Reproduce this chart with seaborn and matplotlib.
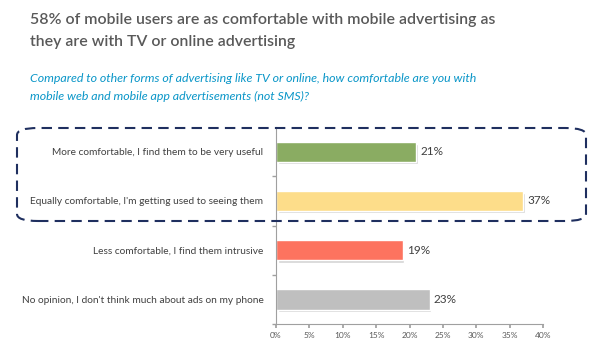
import matplotlib
matplotlib.use("Agg")
import matplotlib.pyplot as plt
import seaborn as sns
import pandas as pd
from matplotlib.patches import FancyBboxPatch
from matplotlib.ticker import FixedLocator

categories = [
    "More comfortable, I find them to be very useful",
    "Equally comfortable, I'm getting used to seeing them",
    "Less comfortable, I find them intrusive",
    "No opinion, I don't think much about ads on my phone",
]
values = [21, 37, 19, 23]
colors = ["#8aac62", "#fddd8a", "#fd735f", "#bfbfbf"]
xticks = [0, 5, 10, 15, 20, 25, 30, 35, 40]

sns.set_theme(style="white")
plt.rcParams["font.family"] = ["Lato", "DejaVu Sans"]

df = pd.DataFrame({"category": categories, "value": values})

fig = plt.figure(figsize=(6.0, 3.47), dpi=100)
ax = fig.add_axes([0.46, 0.066, 0.445, 0.568])

# shadow bars
sns.barplot(data=df, x="value", y="category", hue="category", order=categories,
            palette=["#d4d4d4"] * 4, legend=False, width=0.41, saturation=1, ax=ax, zorder=1)
for p in ax.patches:
    p.set_x(p.get_x() + 0.25)
    p.set_y(p.get_y() + 0.05)
n_shadow = len(ax.patches)
sns.barplot(data=df, x="value", y="category", hue="category", order=categories,
            palette=colors, legend=False, width=0.41, saturation=1, ax=ax, zorder=2)
for p in list(ax.patches)[n_shadow:]:
    p.set_zorder(2)

for i, v in enumerate(values):
    ax.text(v + 0.6, i, f"{v}%", va="center", ha="left", fontsize=8.5, color="#404040")

ax.set_xlim(0, 40)
ax.set_ylim(3.5, -0.5)
ax.set_xticks(xticks)
ax.set_xticklabels([f"{t}%" for t in xticks], fontsize=6, color="#595959")
ax.set_yticks(range(len(categories)))
ax.set_yticklabels(categories, fontsize=7.3, color="#404040")
ax.yaxis.set_minor_locator(FixedLocator([0.5, 1.5, 2.5, 3.5]))
ax.tick_params(axis="y", which="major", length=0, pad=9)
ax.tick_params(axis="y", which="minor", length=3, color="#a0a0a0", direction="out", left=True)
ax.tick_params(axis="x", which="major", length=3, color="#a0a0a0", direction="out", bottom=True, pad=3)
ax.set_xlabel("")
ax.set_ylabel("")
for s in ["top", "right"]:
    ax.spines[s].set_visible(False)
for s in ["left", "bottom"]:
    ax.spines[s].set_color("#a0a0a0")
    ax.spines[s].set_linewidth(0.8)

fig.text(30 / 600, 1 - 20 / 347, "58% of mobile users are as comfortable with mobile advertising as",
         fontsize=11.4, color="#595959", fontweight="semibold", va="center", ha="left")
fig.text(30 / 600, 1 - 42 / 347, "they are with TV or online advertising",
         fontsize=11.4, color="#595959", fontweight="semibold", va="center", ha="left")
fig.text(30 / 600, 1 - 78 / 347, "Compared to other forms of advertising like TV or online, how comfortable are you with",
         fontsize=8.9, color="#0a96c8", fontstyle="italic", va="center", ha="left")
fig.text(30 / 600, 1 - 96 / 347, "mobile web and mobile app advertisements (not SMS)?",
         fontsize=8.9, color="#0a96c8", fontstyle="italic", va="center", ha="left")

box = FancyBboxPatch((17 / 600, 1 - 221 / 347), (586 - 17) / 600, (221 - 128) / 347,
                     boxstyle="round,pad=0,rounding_size=0.035",
                     transform=fig.transFigure, fill=False, edgecolor="#1f2f5f",
                     linewidth=1.5, linestyle=(0, (5, 3)), mutation_aspect=347 / 600)
fig.add_artist(box)

fig.savefig("out.png", dpi=100)
